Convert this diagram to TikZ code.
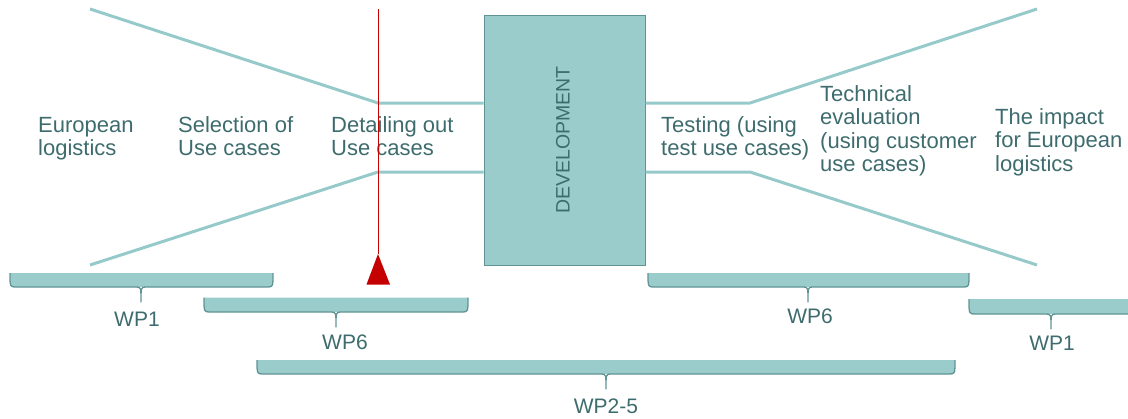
\documentclass[tikz,border=0pt]{standalone}
\usepackage{fontspec}
\setmainfont{Liberation Sans}
\definecolor{lineteal}{RGB}{150,202,202}
\definecolor{boxteal}{RGB}{154,204,204}
\definecolor{edgeteal}{RGB}{96,148,148}
\definecolor{txtteal}{RGB}{62,108,110}
\definecolor{redmark}{RGB}{196,0,0}
\newcommand{\twolines}[1]{\vtop{#1}}
\newcommand{\wpbrace}[6]{%
  \fill[bracefill] (#1,#3) -- (#2,#3) .. controls (#2,#4) .. (#2-6,#4) -- (#1+6,#4) .. controls (#1,#4) .. (#1,#3) -- cycle;
  \draw[braceline] (#1,#3) .. controls (#1,#4) .. (#1+6,#4) -- (#5-5,#4) .. controls (#5,#4) .. (#5,#6) .. controls (#5,#4) .. (#5+5,#4) -- (#2-6,#4) .. controls (#2,#4) .. (#2,#3);
}
\tikzset{
  funnel/.style={draw=lineteal, line width=3pt, line join=round},
  devbox/.style={fill=boxteal, draw=edgeteal, line width=1pt, minimum width=161pt, minimum height=250pt, inner sep=0pt},
  bracefill/.style={fill=boxteal},
  braceline/.style={draw=edgeteal, line width=1.3pt, line join=round},
  lbl/.style={anchor=base west, inner sep=0pt, text=txtteal, font=\fontsize{22}{23.5}\selectfont},
  wplbl/.style={anchor=base, inner sep=0pt, text=txtteal, font=\fontsize{21}{23}\selectfont},
  redline/.style={draw=redmark, line width=0.9pt},
  redtri/.style={fill=redmark},
}
\begin{document}
\begin{tikzpicture}[x=1pt,y=-1pt]
\useasboundingbox (0,0) rectangle (1128,418);
\clip (0,0) rectangle (1128,418);
% funnel lines
\coordinate (lt0) at (90,9);
\coordinate (lt1) at (378,103);
\coordinate (lb0) at (90,265);
\coordinate (lb1) at (378,172);
\coordinate (rt1) at (750,103);
\coordinate (rt0) at (1037,9);
\coordinate (rb1) at (750,172);
\coordinate (rb0) at (1037,265);
\node[devbox] (dev) at (564.5,140) {};
\node[rotate=90, inner sep=0pt, text=txtteal, font=\fontsize{19.5}{21}\selectfont] (devtxt) at (563,140) {DEVELOPMENT};
\draw[funnel] (lt0) -- (lt1) -- (lt1 -| dev.west);
\draw[funnel] (lb0) -- (lb1) -- (lb1 -| dev.west);
\draw[funnel] (rt1 -| dev.east) -- (rt1) -- (rt0);
\draw[funnel] (rb1 -| dev.east) -- (rb1) -- (rb0);
% labels
\node[lbl] (eu) at (38,132) {\twolines{\hbox{European}\hbox{logistics}}};
\node[lbl] (sel) at (178,132) {\twolines{\hbox{Selection of}\hbox{Use cases}}};
\node[lbl] (det) at (331,132) {\twolines{\hbox{Detailing out}\hbox{Use cases}}};
\node[lbl] (tst) at (661,132) {\twolines{\hbox{Testing (using}\hbox{test use cases)}}};
\node[lbl] (tec) at (820,101) {\twolines{\hbox{Technical}\hbox{evaluation}\hbox{(using customer}\hbox{use cases)}}};
\node[lbl] (imp) at (995,124) {\twolines{\hbox{The impact}\hbox{for European}\hbox{logistics}}};
% red marker
\coordinate (redtop) at (378,9);
\coordinate (apex) at (378,254);
\draw[redline] (redtop) -- (apex);
\fill[redtri] (apex) -- (390,284.5) -- (366.5,284.5) -- cycle;
% braces
\wpbrace{10}{273}{273}{287}{141}{302}
\wpbrace{204}{468}{297.5}{312}{336}{327}
\wpbrace{257}{955}{360}{374}{606}{389}
\wpbrace{648}{969}{273}{287}{808}{302}
\wpbrace{969}{1140}{299}{314}{1051}{329}
\node[wplbl] (wp1a) at (137,326) {WP1};
\node[wplbl] (wp6a) at (345,349) {WP6};
\node[wplbl] (wp25) at (606,413.5) {WP2-5};
\node[wplbl] (wp6b) at (810,323) {WP6};
\node[wplbl] (wp1b) at (1052,350) {WP1};
\end{tikzpicture}
\end{document}
